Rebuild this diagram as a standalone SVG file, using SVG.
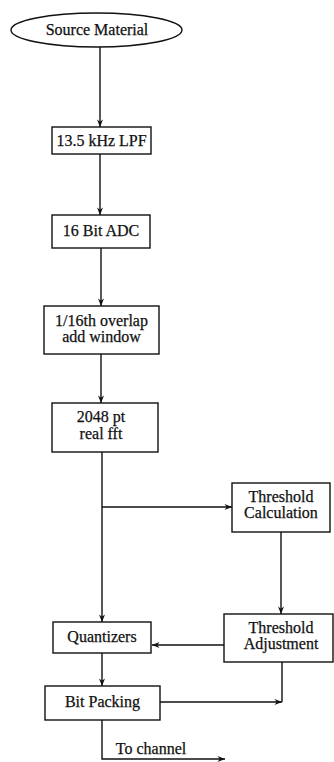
<svg xmlns="http://www.w3.org/2000/svg" width="334" height="762" viewBox="0 0 334 762">
<style>
.box{fill:#fff;stroke:#111;stroke-width:1.4}
.t{font-family:"Liberation Serif","Times New Roman",serif;font-size:16px;fill:#111;text-anchor:middle;stroke:#111;stroke-width:0.25}
.c{fill:none;stroke:#111;stroke-width:1.4}
</style>
<defs>
<marker id="ah" viewBox="0 0 10 8" refX="10" refY="4" markerWidth="8" markerHeight="6" markerUnits="userSpaceOnUse" orient="auto">
<path d="M0,0 L10,4 L0,8 L3,4 Z" fill="#111"/>
</marker>
</defs>
<rect width="334" height="762" fill="#fff"/>
<g id="connectors">
<line class="c" x1="100" y1="47" x2="100" y2="127" marker-end="url(#ah)"/>
<line class="c" x1="100" y1="154" x2="100" y2="215" marker-end="url(#ah)"/>
<line class="c" x1="101" y1="248" x2="101" y2="306" marker-end="url(#ah)"/>
<line class="c" x1="101" y1="354" x2="101" y2="403" marker-end="url(#ah)"/>
<line class="c" x1="102" y1="452" x2="102" y2="622" marker-end="url(#ah)"/>
<line class="c" x1="102" y1="507" x2="232" y2="507" marker-end="url(#ah)"/>
<line class="c" x1="281" y1="532" x2="281" y2="614" marker-end="url(#ah)"/>
<line class="c" x1="224" y1="645" x2="152" y2="645" marker-end="url(#ah)"/>
<line class="c" x1="102" y1="653" x2="102" y2="686" marker-end="url(#ah)"/>
<line class="c" x1="160" y1="702" x2="282" y2="702" marker-end="url(#ah)"/>
<line class="c" x1="282" y1="662" x2="282" y2="702"/>
<path class="c" d="M102,720 L102,759 L225,759" marker-end="url(#ah)"/>
</g>
<g id="source">
<ellipse class="box" cx="96.5" cy="30" rx="85.5" ry="17"/>
<text class="t" x="97" y="35">Source Material</text>
</g>
<g id="lpf">
<rect class="box" x="52" y="127" width="99" height="27"/>
<text class="t" x="101.5" y="146">13.5 kHz LPF</text>
</g>
<g id="adc">
<rect class="box" x="52" y="215" width="98" height="33"/>
<text class="t" x="101" y="236">16 Bit ADC</text>
</g>
<g id="window">
<rect class="box" x="44" y="306" width="115" height="48"/>
<text class="t" x="101.5" y="326">1/16th overlap</text>
<text class="t" x="101.5" y="342">add window</text>
</g>
<g id="fft">
<rect class="box" x="52" y="403" width="106" height="49"/>
<text class="t" x="101" y="422">2048 pt</text>
<text class="t" x="101" y="439">real fft</text>
</g>
<g id="thresholdCalc">
<rect class="box" x="232" y="483" width="98" height="49"/>
<text class="t" x="281" y="502">Threshold</text>
<text class="t" x="281" y="518">Calculation</text>
</g>
<g id="thresholdAdj">
<rect class="box" x="224" y="614" width="109" height="48"/>
<text class="t" x="281" y="633">Threshold</text>
<text class="t" x="281" y="649">Adjustment</text>
</g>
<g id="quantizers">
<rect class="box" x="53" y="622" width="98" height="31"/>
<text class="t" x="102" y="642">Quantizers</text>
</g>
<g id="bitPacking">
<rect class="box" x="45" y="686" width="115" height="34"/>
<text class="t" x="102.5" y="707">Bit Packing</text>
</g>
<text class="t" x="151" y="754">To channel</text>
</svg>
